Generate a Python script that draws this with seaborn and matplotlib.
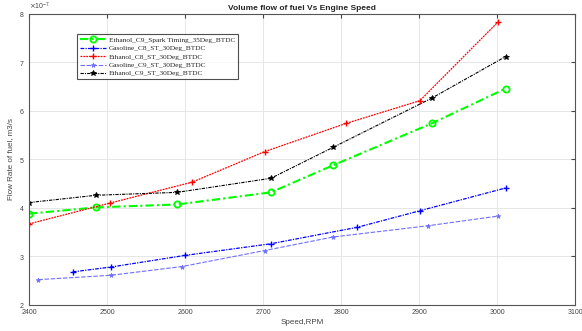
import numpy as np
import pandas as pd
import seaborn as sns
import matplotlib
matplotlib.use("Agg")
import matplotlib.pyplot as plt
from matplotlib.ticker import ScalarFormatter

# values (flow rate in 1e-7 m3/s)
speed_eth_c9_35 = [2400, 2486, 2590, 2710, 2790, 2916, 3011]
flow_eth_c9_35 = [3.88, 4.01, 4.07, 4.32, 4.88, 5.74, 6.46]

speed_gas_c8 = [2456, 2505, 2600, 2710, 2821, 2901, 3011]
flow_gas_c8 = [2.68, 2.78, 3.02, 3.26, 3.60, 3.94, 4.41]

speed_eth_c8 = [2400, 2504, 2609, 2702, 2806, 2901, 3001]
flow_eth_c8 = [3.67, 4.10, 4.53, 5.16, 5.74, 6.21, 7.83]

speed_gas_c9 = [2412, 2505, 2596, 2702, 2790, 2911, 3001]
flow_gas_c9 = [2.52, 2.61, 2.79, 3.12, 3.40, 3.63, 3.83]

speed_eth_c9 = [2400, 2486, 2590, 2710, 2790, 2916, 3011]
flow_eth_c9 = [4.11, 4.26, 4.32, 4.61, 5.25, 6.26, 7.12]

labels = ["Ethanol_C9_Spark Timing_35Deg_BTDC", "Gasoline_C8_ST_30Deg_BTDC",
          "Ethanol_C8_ST_30Deg_BTDC", "Gasoline_C9_ST_30Deg_BTDC",
          "Ethanol_C9_ST_30Deg_BTDC"]

sns.set_style("white")
plt.rcParams['font.family'] = ['Liberation Sans', 'DejaVu Sans']

fig = plt.figure(figsize=(5.82, 3.31), dpi=100)
ax = fig.add_axes([0.050, 0.079, 0.938, 0.879])

# line style, marker style
series = [
    (speed_eth_c9_35, flow_eth_c9_35,
     dict(color="#00ff00", linestyle=(0, (4, 1.5, 1, 1.5)), linewidth=1.5),
     dict(marker="o", markersize=4.5, markerfacecolor="none", markeredgewidth=1.3)),
    (speed_gas_c8, flow_gas_c8,
     dict(color="#0000ff", linestyle=(0, (3, 1, 1, 1)), linewidth=0.9),
     dict(marker="+", markersize=5, markeredgewidth=1.0)),
    (speed_eth_c8, flow_eth_c8,
     dict(color="#ff0000", linestyle=(0, (1.5, 0.8)), linewidth=0.9),
     dict(marker="+", markersize=4.5, markeredgewidth=1.0)),
    (speed_gas_c9, flow_gas_c9,
     dict(color="#6f6fff", linestyle=(0, (4, 1.5)), linewidth=0.8),
     dict(marker="*", markersize=3.5, markeredgewidth=0.5)),
    (speed_eth_c9, flow_eth_c9,
     dict(color="#000000", linestyle=(0, (3, 1, 1, 1)), linewidth=0.8),
     dict(marker="*", markersize=4, markeredgewidth=0.6)),
]

for (x, y, lstyle, mstyle), lab in zip(series, labels):
    df = pd.DataFrame({"speed": x, "flow": np.array(y) * 1e-7})
    sns.lineplot(data=df, x="speed", y="flow", ax=ax, label=lab, **lstyle)
    line = ax.lines[-1]
    line.set_marker(mstyle["marker"])
    line.set_markersize(mstyle["markersize"])
    line.set_markeredgewidth(mstyle["markeredgewidth"])
    line.set_markeredgecolor(lstyle["color"])
    line.set_markerfacecolor(mstyle.get("markerfacecolor", lstyle["color"]))

ax.set_xlim(2400, 3100)
ax.set_ylim(2e-7, 8e-7)
ax.set_xticks(range(2400, 3101, 100))
ax.set_yticks(np.arange(2, 9) * 1e-7)
fmt = ScalarFormatter(useMathText=True)
fmt.set_powerlimits((-3, 3))
ax.yaxis.set_major_formatter(fmt)
ax.yaxis.get_offset_text().set_fontsize(5)
ax.yaxis.get_offset_text().set_color("#444444")

ax.grid(True, color="#e6e6e6", linewidth=0.7)
ax.tick_params(direction="in", labelsize=5, colors="#444444", length=3,
               top=True, right=True, pad=3)
for sp in ax.spines.values():
    sp.set_color("#555555")
    sp.set_linewidth(0.8)

ax.set_xlabel("Speed,RPM", fontsize=5.8, color="#444444", labelpad=2)
ax.set_ylabel("Flow Rate of fuel, m3/s", fontsize=5.8, color="#444444", labelpad=4)
ax.set_title("Volume flow of fuel Vs Engine Speed", fontsize=6, fontweight="bold", pad=3)

leg = ax.legend(loc="upper left", bbox_to_anchor=(0.088, 0.93),
                prop={"family": "Liberation Serif", "size": 5.3},
                frameon=True, fancybox=False, borderpad=0.35, labelspacing=0.3,
                handlelength=3.6, handletextpad=0.4, borderaxespad=0)
leg.get_frame().set_edgecolor("#222222")
leg.get_frame().set_linewidth(0.8)

fig.savefig("out.png", dpi=100)
